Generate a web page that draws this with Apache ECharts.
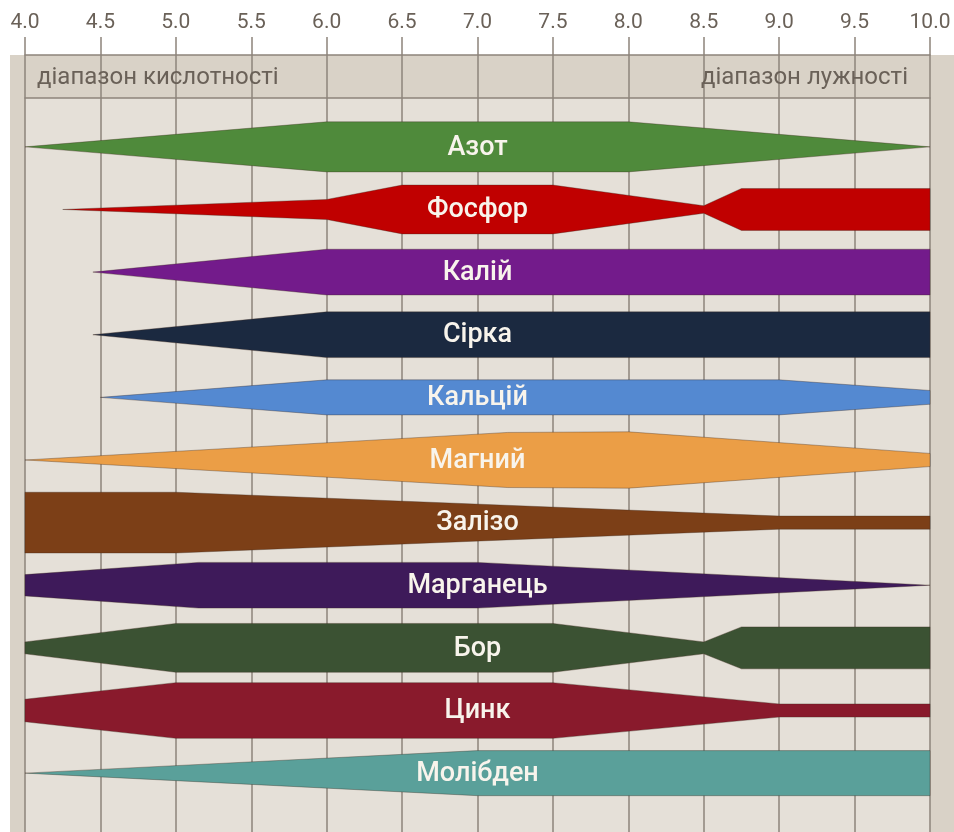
<!DOCTYPE html>
<html>
<head>
<meta charset="utf-8">
<title>Доступність елементів живлення залежно від pH</title>
<script src="https://cdn.jsdelivr.net/npm/echarts@6/dist/echarts.min.js"></script>
<style>
  html, body { margin: 0; padding: 0; background: #ffffff; }
  #wrap { position: relative; width: 954px; height: 832px; overflow: hidden; }
  #strip { position: absolute; left: 10px; top: 55px; right: 0; bottom: 0; background: #d9d2c7; }
  #chart { position: absolute; left: 0; top: 0; width: 954px; height: 832px; }
</style>
</head>
<body>
<div id="wrap"><div id="strip"></div><div id="chart"></div></div>
<script>
// Nutrients, top to bottom
const nutrients = ['Азот', 'Фосфор', 'Калій', 'Сірка', 'Кальцій', 'Магний',
                   'Залізо', 'Марганець', 'Бор', 'Цинк', 'Молібден'];
const colors = ['#4f8a3b', '#c00000', '#731b8b', '#1b2940', '#5489d1', '#eb9e46',
                '#7c3f17', '#3e1a5a', '#3b5233', '#891a2c', '#5aa09a'];

// Availability profiles: [pH, band thickness as a share of the row pitch]
const azot      = [[4.0, 0], [6.0, 0.80], [8.0, 0.80], [10.0, 0]];
const fosfor    = [[4.25, 0], [6.0, 0.32], [6.5, 0.78], [7.5, 0.78], [8.5, 0.12], [8.75, 0.67], [10.0, 0.67]];
const kaliy     = [[4.45, 0], [6.0, 0.73], [10.0, 0.73]];
const sirka     = [[4.45, 0], [6.0, 0.73], [10.0, 0.73]];
const kaltsiy   = [[4.5, 0], [6.0, 0.56], [9.0, 0.56], [10.0, 0.22]];
const magniy    = [[4.0, 0], [7.2, 0.88], [8.0, 0.90], [10.0, 0.21]];
const zalizo    = [[4.0, 0.97], [5.0, 0.97], [9.0, 0.21], [10.0, 0.21]];
const marganets = [[4.0, 0.34], [5.15, 0.73], [7.0, 0.73], [10.0, 0]];
const bor       = [[4.0, 0.19], [5.0, 0.78], [7.5, 0.78], [8.5, 0.19], [8.75, 0.67], [10.0, 0.67]];
const tsynk     = [[4.0, 0.36], [5.0, 0.89], [7.5, 0.89], [9.0, 0.21], [10.0, 0.21]];
const molibden  = [[4.0, 0], [7.0, 0.72], [10.0, 0.72]];
const profiles = [azot, fosfor, kaliy, sirka, kaltsiy, magniy, zalizo, marganets, bor, tsynk, molibden];

// pH scale
const phTicks = ['4.0', '4.5', '5.0', '5.5', '6.0', '6.5', '7.0', '7.5', '8.0', '8.5', '9.0', '9.5', '10.0'];
const acidLabel = 'діапазон кислотності';
const alkaliLabel = 'діапазон лужності';
const labelPH = 7.0;

const lineColor = '#8d847b';
const textGrey = '#6a6158';
const phMin = Number(phTicks[0]);
const phMax = Number(phTicks[phTicks.length - 1]);

const chart = echarts.init(document.getElementById('chart'), null, { renderer: 'canvas' });

const xBase = {
  type: 'value', min: phMin, max: phMax, interval: 0.5, position: 'top',
  splitLine: { show: true, lineStyle: { color: lineColor, width: 1.5 } }
};

chart.setOption({
  animation: false,
  backgroundColor: 'transparent',
  grid: [
    { left: 25, right: 24, top: 55, height: 43, show: true, backgroundColor: '#d9d2c7', borderWidth: 0 },
    { left: 25, right: 24, top: 98, bottom: 0, show: true, backgroundColor: '#e5e0d8', borderWidth: 0 }
  ],
  xAxis: [
    Object.assign({}, xBase, {
      gridIndex: 0,
      axisLine: { show: true, onZero: false, lineStyle: { color: lineColor, width: 1.5 } },
      axisTick: { show: true, inside: false, length: 18, lineStyle: { color: lineColor, width: 1.5 } },
      axisLabel: {
        show: true, margin: 22, color: textGrey, fontFamily: 'Roboto', fontSize: 21,
        formatter: v => phTicks[Math.round((v - phMin) / 0.5)]
      }
    }),
    Object.assign({}, xBase, {
      gridIndex: 1,
      axisLine: { show: true, onZero: false, lineStyle: { color: lineColor, width: 1.5 } },
      axisTick: { show: false },
      axisLabel: { show: false }
    })
  ],
  yAxis: [
    { type: 'value', gridIndex: 0, min: 0, max: 1, show: false },
    { type: 'value', gridIndex: 1, inverse: true, min: -0.78, max: 10.94, show: false }
  ],
  graphic: [
    { type: 'text', x: 37, y: 78, z: 10,
      style: { text: acidLabel, fill: textGrey, font: '24px Roboto', align: 'left', verticalAlign: 'middle' } },
    { type: 'text', x: 908, y: 78, z: 10,
      style: { text: alkaliLabel, fill: textGrey, font: '24px Roboto', align: 'right', verticalAlign: 'middle' } }
  ],
  series: [{
    type: 'custom',
    xAxisIndex: 1,
    yAxisIndex: 1,
    clip: false,
    encode: { x: 0, y: 1 },
    data: nutrients.map((name, i) => ({ name: name, value: [labelPH, i] })),
    renderItem: function (params, api) {
      const row = api.value(1);
      const prof = profiles[params.dataIndex];
      const upper = prof.map(p => api.coord([p[0], row - p[1] / 2]));
      const lower = prof.slice().reverse().map(p => api.coord([p[0], row + p[1] / 2]));
      const mid = api.coord([api.value(0), row]);
      return {
        type: 'group',
        children: [
          {
            type: 'polygon',
            shape: { points: upper.concat(lower) },
            style: { fill: colors[params.dataIndex], stroke: 'rgba(60,40,30,0.35)', lineWidth: 1 }
          },
          {
            type: 'text',
            x: mid[0], y: mid[1] + 1,
            style: {
              text: nutrients[params.dataIndex], fill: '#f8f4ec',
              font: '500 27px Roboto', align: 'center', verticalAlign: 'middle'
            }
          }
        ]
      };
    }
  }]
});
</script>
</body>
</html>
